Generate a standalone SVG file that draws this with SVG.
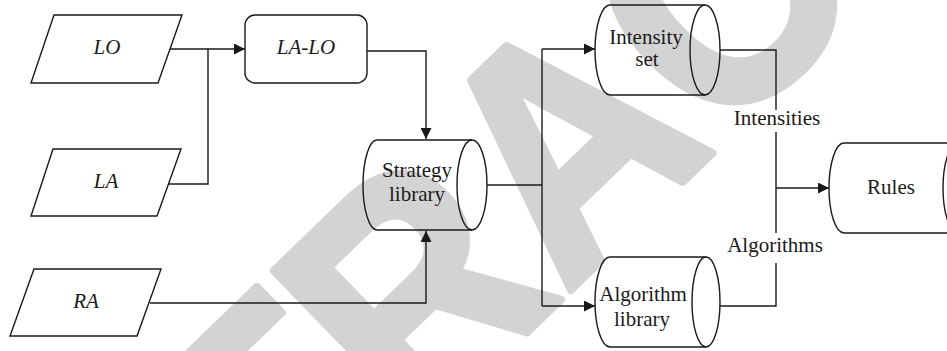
<svg xmlns="http://www.w3.org/2000/svg" width="947" height="351" viewBox="0 0 947 351">
<style>
.wm{font-family:"Liberation Sans",Arial,sans-serif;font-weight:bold;font-size:320px;fill:#d3d3d3;stroke:#d3d3d3;stroke-width:8;stroke-linejoin:round}
.shape{fill:none;stroke:#1a1a1a;stroke-width:1.4}
.line{fill:none;stroke:#1a1a1a;stroke-width:1.4}
.t{font-family:"Liberation Serif","Times New Roman","DejaVu Serif",serif;font-size:21px;fill:#1a1a1a;text-anchor:middle}
.i{font-style:italic}
</style>
<defs>
<marker id="ah" markerUnits="userSpaceOnUse" markerWidth="12" markerHeight="11" refX="11" refY="5.5" orient="auto">
<path d="M0,0 L11,5.5 L0,11 z" fill="#1a1a1a"/>
</marker>
</defs>
<rect width="947" height="351" fill="#ffffff"/>
<text class="wm" x="0" y="0" transform="translate(-11.1 851.9) rotate(-44) scale(0.92 1)">RETRACTED</text>

<g id="connectors">
<path class="line" d="M170,49 H245" marker-end="url(#ah)"/>
<path class="line" d="M168,184 H208 V49"/>
<path class="line" d="M367,51 H426 V139" marker-end="url(#ah)"/>
<path class="line" d="M150,303 H426 V231" marker-end="url(#ah)"/>
<path class="line" d="M487,185 H542"/>
<path class="line" d="M542,49 V306"/>
<path class="line" d="M542,49 H595" marker-end="url(#ah)"/>
<path class="line" d="M542,306 H595" marker-end="url(#ah)"/>
<path class="line" d="M720,50 H776 V110"/>
<path class="line" d="M776,132 V233"/>
<path class="line" d="M720,306 H776 V263"/>
<path class="line" d="M776,188 H829" marker-end="url(#ah)"/>
<text class="t" x="777" y="125">Intensities</text>
<text class="t" x="775" y="252">Algorithms</text>
</g>

<g id="node-LO">
<path class="shape" d="M54,15 H182 L158,83 H31 Z"/>
<text class="t i" x="107" y="54">LO</text>
</g>
<g id="node-LA">
<path class="shape" d="M53,149 H181 L157,216 H31 Z"/>
<text class="t i" x="106" y="188">LA</text>
</g>
<g id="node-RA">
<path class="shape" d="M34,269 H161 L137,336 H10 Z"/>
<text class="t i" x="86" y="308">RA</text>
</g>
<g id="node-LALO">
<rect class="shape" x="245" y="15" width="122" height="68" rx="10" ry="10"/>
<text class="t i" x="306" y="54">LA-LO</text>
</g>
<g id="node-strategy">
<path class="shape" d="M377,140 H472 M377,230 H472 M377,140 A14,45 0 0 0 377,230"/>
<ellipse class="shape" cx="472" cy="185" rx="15" ry="45"/>
<text class="t" x="417" y="177">Strategy</text>
<text class="t" x="417" y="201">library</text>
</g>
<g id="node-intensity">
<path class="shape" d="M610,5 H705 M610,95 H705 M610,5 A15,45 0 0 0 610,95"/>
<ellipse class="shape" cx="705" cy="50" rx="15" ry="45"/>
<text class="t" x="646" y="44">Intensity</text>
<text class="t" x="647" y="66">set</text>
</g>
<g id="node-algorithm">
<path class="shape" d="M610,257 H706 M610,347 H706 M610,257 A15,45 0 0 0 610,347"/>
<ellipse class="shape" cx="706" cy="302" rx="14" ry="45"/>
<text class="t" x="643" y="301">Algorithm</text>
<text class="t" x="642" y="326">library</text>
</g>
<g id="node-rules">
<path class="shape" d="M844,143 H958 M844,233 H958 M844,143 A15,45 0 0 0 844,233"/>
<ellipse class="shape" cx="958" cy="188" rx="15" ry="45"/>
<text class="t" x="891" y="194">Rules</text>
</g>
</svg>
